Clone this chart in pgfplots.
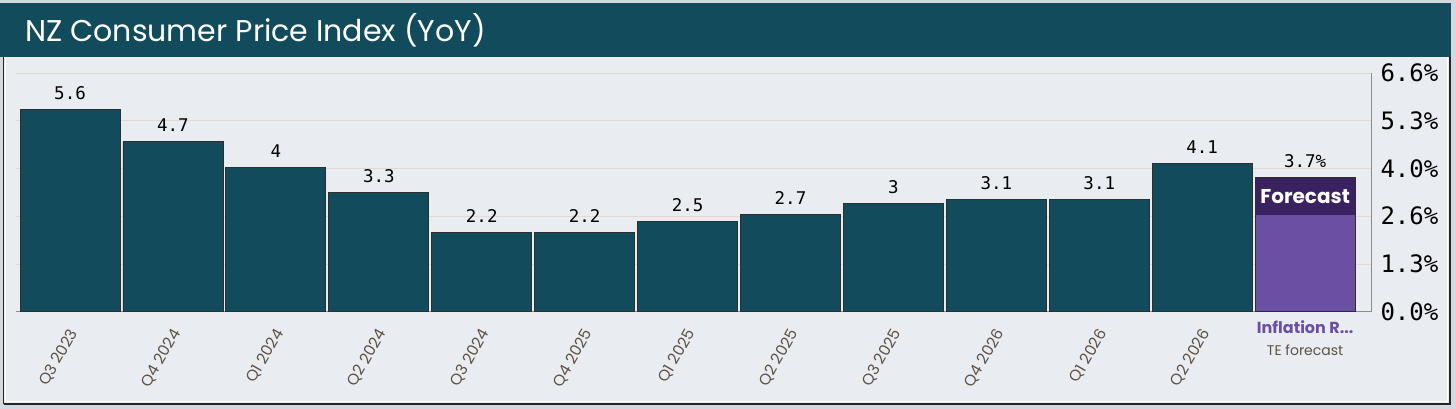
\documentclass[border=0pt]{standalone}
\usepackage{pgfplots}
\pgfplotsset{compat=1.18}
\usepackage{fontspec}
\setmainfont{Poppins}
\newfontfamily\monofont{DejaVu Sans Mono}

\definecolor{teal}{HTML}{124B5B}
\definecolor{bg}{HTML}{E9ECF0}
\definecolor{outer}{HTML}{D3D9DF}
\definecolor{gridc}{HTML}{E3D9D2}
\definecolor{tickc}{HTML}{5E5246}
\definecolor{fcast}{HTML}{6B4FA3}
\definecolor{fcastdark}{HTML}{3A2160}
\definecolor{edge}{HTML}{2E2E2E}

\begin{document}
\begin{tikzpicture}
\useasboundingbox (0,0) rectangle (1456pt,409pt);
% frame and title band
\fill[outer] (0,0) rectangle (1456pt,409pt);
\fill[bg] (3pt,5pt) rectangle (1450pt,406pt);
\draw[white, line width=1pt] (5.5pt,7.5pt) rectangle (1447.5pt,352pt);
\draw[black!85, line width=2pt] (3.5pt,5pt) -- (1450pt,5pt) -- (1450pt,406pt);
\draw[black!85, line width=1.5pt] (3.5pt,5pt) -- (3.5pt,352pt);
\fill[teal] (0,352pt) rectangle (1451pt,406pt);
\node[anchor=base west, text=white, font=\fontsize{30}{34}\selectfont, inner sep=0pt]
  at (25pt,367pt) {NZ Consumer Price Index (YoY)};

\begin{axis}[
    at={(16pt,97.3pt)}, anchor=south west,
    scale only axis,
    width=1355pt, height=238.7pt,
    xmin=-0.525, xmax=12.64,
    ymin=0, ymax=6.6,
    clip=false,
    axis x line*=bottom,
    axis y line*=right,
    axis line style={draw=black!45, line width=1pt},
    ybar, bar width=100pt, bar shift=0pt,
    ymajorgrids=true,
    grid style={draw=gridc, line width=0.8pt},
    major tick length=0pt,
    /pgf/number format/assume math mode=true,
    xtick={0,...,11},
    xticklabels={Q3 2023, Q4 2024, Q1 2024, Q2 2024, Q3 2024, Q4 2025,
                 Q1 2025, Q2 2025, Q3 2025, Q4 2026, Q1 2026, Q2 2026},
    x tick label style={rotate=60, anchor=east, text=tickc,
                        font=\fontsize{15.5}{18}\selectfont, xshift=-11pt, yshift=-13pt},
    ytick={0,1.32,2.64,3.96,5.28,6.6},
    yticklabels={0.0\%,1.3\%,2.6\%,4.0\%,5.3\%,6.6\%},
    y tick label style={anchor=west, xshift=6pt,
                        font=\monofont\fontsize{24}{26}\selectfont},
    nodes near coords,
    every node near coord/.append style={font=\monofont\fontsize{17.5}{19}\selectfont,
                                         text=black, yshift=6pt},
]
\addplot[fill=teal, draw=edge, line width=0.8pt] coordinates {
    (0,5.6) (1,4.7) (2,4) (3,3.3) (4,2.2) (5,2.2)
    (6,2.5) (7,2.7) (8,3) (9,3.1) (10,3.1) (11,4.1)
};
\addplot[fill=fcast, draw=edge, line width=0.8pt,
    nodes near coords={\pgfmathprintnumber[fixed,precision=1]{\pgfplotspointmeta}\%}]
    coordinates {(12,3.7)};
\node[fill=fcastdark, text=white, anchor=north, minimum width=99pt, minimum height=37pt,
      inner sep=0pt, font=\bfseries\fontsize{20}{22}\selectfont]
  at (axis cs:12,3.7) {Forecast};
\node[anchor=north, align=center, inner sep=0pt, yshift=-9pt]
  at (axis cs:12,0)
  {\textcolor{fcast}{\bfseries\fontsize{16}{18}\selectfont Inflation R...}\\[10pt]
   \textcolor{tickc}{\fontsize{14}{16}\selectfont TE forecast}};
\end{axis}
\end{tikzpicture}
\end{document}
